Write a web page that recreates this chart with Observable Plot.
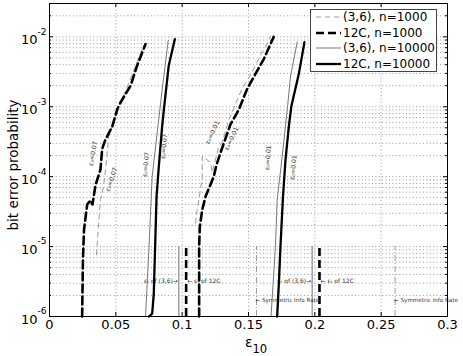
<!DOCTYPE html>
<html><head><meta charset="utf-8">
<script src="https://cdn.jsdelivr.net/npm/d3@7"></script>
<script src="https://cdn.jsdelivr.net/npm/@observablehq/plot@0.6"></script>
<style>
html,body{margin:0;padding:0;background:#fff;}
#wrap{position:relative;width:463px;height:356px;font-family:"DejaVu Sans",sans-serif;}
#legend{position:absolute;left:310px;top:9px;width:127px;height:63px;border:1px solid #444;background:#fff;box-sizing:border-box;}
.row{position:absolute;left:0;height:16px;width:125px;font-size:12px;line-height:16px;color:#000;white-space:nowrap;}
.row svg{position:absolute;left:4px;top:0;}
.row span{position:absolute;left:32px;top:0;}
</style></head><body><div id="wrap"><div id="legend"></div></div>
<script>
// ---- axes ----
const xTickValues = [0, 0.05, 0.1, 0.15, 0.2, 0.25, 0.3];
const xTickLabels = ["0", "0.05", "0.1", "0.15", "0.2", "0.25", "0.3"];
const yTickValues = [1e-6, 1e-5, 1e-4, 1e-3, 1e-2];
const yTickExponents = ["-6", "-5", "-4", "-3", "-2"];
const xLabel = "ε";
const xLabelSub = "10";
const yLabel = "bit error probability";

// ---- series: eps0 = 0.07 group ----
const x36n1k_a = [0.0354,0.0372,0.0384,0.0407,0.0422,0.0447,0.0473,0.0510,0.0535,0.0611,0.0709];
const y36n1k_a = [7.6e-6,2.4e-5,4.7e-5,7.2e-5,1.26e-4,3.8e-4,5.2e-4,8.3e-4,1.15e-3,2.5e-3,7.5e-3];
const x12n1k_a = [0.0246,0.0252,0.0260,0.0284,0.0309,0.0324,0.0347,0.0384,0.0397,0.0422,0.0473,0.0510,0.0535,0.0611,0.0661,0.0724];
const y12n1k_a = [1e-6,6.4e-6,1.74e-5,4.0e-5,4.6e-5,4.0e-5,7.6e-5,1.26e-4,2.5e-4,3.4e-4,5.2e-4,9.1e-4,1.15e-3,2.0e-3,3.9e-3,7.9e-3];
const x36n10k_a = [0.0724,0.0749,0.0774,0.0812,0.0850,0.0895];
const y36n10k_a = [1e-6,9e-6,1e-4,4.3e-4,1.8e-3,8.9e-3];
const x12n10k_a = [0.0749,0.0774,0.0786,0.0807,0.0824,0.0849,0.0862,0.0899,0.0945];
const y12n10k_a = [1e-6,1.1e-6,2.1e-6,5.2e-5,1.4e-4,5.2e-4,9.1e-4,3.9e-3,9.3e-3];

// ---- series: eps0 = 0.01 group ----
const x36n1k_b = [0.1100,0.1113,0.1138,0.1151,0.1151,0.1214,0.1226,0.1277,0.1302,0.1352,0.1377,0.1427,0.1452,0.1502,0.1540,0.1603,0.1628,0.1666];
const y36n1k_b = [2.16e-5,3.35e-5,6.5e-5,1.0e-4,1.96e-4,1.6e-4,1.15e-4,2.7e-4,3.1e-4,6.6e-4,8.3e-4,1.43e-3,1.8e-3,2.6e-3,3.5e-3,6.1e-3,7.2e-3,1.02e-2];
const x12n1k_b = [0.1128,0.1128,0.1133,0.1151,0.1176,0.1238,0.1259,0.1289,0.1364,0.1427,0.1490,0.1578,0.1615,0.1690];
const y12n1k_b = [1e-6,1e-5,1.93e-5,3.35e-5,5.2e-5,1e-4,1.48e-4,2.2e-4,5.6e-4,9.1e-4,1.8e-3,3.6e-3,4.8e-3,1e-2];
const x36n10k_b = [0.1670,0.1703,0.1716,0.1754,0.1792,0.1817,0.1867];
const y36n10k_b = [1e-6,1e-5,4.6e-5,1.95e-4,9.1e-4,2.75e-3,8.4e-3];
const x12n10k_b = [0.1716,0.1729,0.1741,0.1760,0.1779,0.1804,0.1823,0.1880,0.1922];
const y12n10k_b = [1e-6,3e-6,1e-5,5.2e-5,1.75e-4,5.2e-4,1.02e-3,3.0e-3,8.4e-3];

// ---- legend ----
const legendLabels = ["(3,6), n=1000", "12C, n=1000", "(3,6), n=10000", "12C, n=10000"];

// ---- curve labels ----
const curveLabelText = ["ε₀=0.07","ε₀=0.07","ε₀=0.07","ε₀=0.07","ε₀=0.01","ε₀=0.01","ε₀=0.01","ε₀=0.01"];
const curveLabelX = [0.0328,0.0467,0.0727,0.0863,0.1229,0.1372,0.1647,0.1839];
const curveLabelY = [2.14e-4,9.1e-5,1.49e-4,2.7e-4,4.3e-4,3.5e-4,1.87e-4,1.35e-4];
const curveLabelAngle = [-80,-72,-85,-85,-65,-65,-85,-85];

// ---- thresholds ----
const thr36 = [0.0975, 0.198];
const thr12C = [0.103, 0.2035];
const sir = [0.156, 0.2605];
const thrBerRange = [1e-6, 1e-5];
const thrTextBer = 3.2e-6;
const sirTextBer = 1.7e-6;
const thr36Text = "εₜ of (3,6)→";
const thr12CText = "← εₜ of 12C";
const sirText = "← Symmetric Info Rate";

// ---- styles ----
const S = [
  {stroke:"#9a9a9a", strokeWidth:1, strokeDasharray:"5,4"},
  {stroke:"#000", strokeWidth:2.6, strokeDasharray:"8,4"},
  {stroke:"#777", strokeWidth:1, strokeDasharray:null},
  {stroke:"#000", strokeWidth:2.3, strokeDasharray:null}
];

const zip = (xs, ys) => xs.map((x, i) => ({x, y: ys[i]}));
const series = [
  [zip(x36n1k_a, y36n1k_a), 0], [zip(x12n1k_a, y12n1k_a), 1],
  [zip(x36n10k_a, y36n10k_a), 2], [zip(x12n10k_a, y12n10k_a), 3],
  [zip(x36n1k_b, y36n1k_b), 0], [zip(x12n1k_b, y12n1k_b), 1],
  [zip(x36n10k_b, y36n10k_b), 2], [zip(x12n10k_b, y12n10k_b), 3]
];
const curveLabels = curveLabelText.map((t, i) => ({t, x: curveLabelX[i], y: curveLabelY[i], a: curveLabelAngle[i]}));

const yMinor = d3.scaleLog().domain([1e-6, 0.03]).ticks();
const yMinorOnly = yMinor.filter(v => !yTickValues.some(t => Math.abs(t - v) / t < 1e-6));

const W = 463, H = 356, ML = 49, MR = 16, MT = 3, MB = 40;
const FW = W - ML - MR, FH = H - MT - MB;

const plot = Plot.plot({
  width: W, height: H,
  marginLeft: ML, marginRight: MR, marginTop: MT, marginBottom: MB,
  style: {fontFamily: "'DejaVu Sans', sans-serif", fontSize: "13px", background: "white", overflow: "visible"},
  x: {domain: [0, 0.3], axis: null},
  y: {type: "log", domain: [1e-6, 0.03], axis: null},
  marks: [
    // grid
    Plot.ruleX(xTickValues, {stroke: "#9a9a9a", strokeWidth: 1, strokeDasharray: "1,2.4"}),
    Plot.ruleY(yMinor, {stroke: "#9a9a9a", strokeWidth: 1, strokeDasharray: "1,2.4"}),
    // inward ticks
    Plot.tickX(xTickValues, {stroke: "#000", insetTop: FH - 4}),
    Plot.tickX(xTickValues, {stroke: "#000", insetBottom: FH - 4}),
    Plot.tickY(yTickValues, {stroke: "#000", insetRight: FW - 4}),
    Plot.tickY(yTickValues, {stroke: "#000", insetLeft: FW - 4}),
    Plot.tickY(yMinorOnly, {stroke: "#000", insetRight: FW - 2}),
    Plot.tickY(yMinorOnly, {stroke: "#000", insetLeft: FW - 2}),
    // threshold lines
    Plot.ruleX(thr36, {y1: thrBerRange[0], y2: thrBerRange[1], stroke: "#8a8a8a", strokeWidth: 1.2}),
    Plot.ruleX(thr12C, {y1: thrBerRange[0], y2: thrBerRange[1], stroke: "#000", strokeWidth: 2.6, strokeDasharray: "8,4"}),
    Plot.ruleX(sir, {y1: thrBerRange[0], y2: thrBerRange[1], stroke: "#9a9a9a", strokeWidth: 1, strokeDasharray: "6,2,1,2"}),
    Plot.text(thr36, {x: d => d, y: thrTextBer, text: () => thr36Text, textAnchor: "end", dx: -1, fontSize: 6, fill: "#333"}),
    Plot.text(thr12C, {x: d => d, y: thrTextBer, text: () => thr12CText, textAnchor: "start", dx: 1, fontSize: 6, fill: "#333"}),
    Plot.text(sir, {x: d => d, y: sirTextBer, text: () => sirText, textAnchor: "start", dx: -1, fontSize: 5.6, fill: "#333"}),
    // curves
    ...series.map(([data, s]) => Plot.line(data, {x: "x", y: "y", ...S[s]})),
    // curve labels
    Plot.text(curveLabels, {x: "x", y: "y", text: "t", rotate: "a", fontSize: 6.2, fill: "#333"}),
    // frame
    Plot.frame({stroke: "#000", strokeWidth: 1}),
    // x tick labels
    Plot.axisX(xTickValues, {tickSize: 0, tickPadding: 3, tickFormat: d => xTickLabels[xTickValues.indexOf(d)], fontSize: 13, label: null}),
    // y tick labels: base and exponent
    Plot.text(yTickValues, {y: d => d, frameAnchor: "left", text: () => "10", textAnchor: "end", lineAnchor: "middle", dx: -12, dy: 3, fontSize: 13}),
    Plot.text(yTickValues, {y: d => d, frameAnchor: "left", text: (d, i) => yTickExponents[yTickValues.indexOf(d)], textAnchor: "start", lineAnchor: "middle", dx: -12, dy: -5, fontSize: 9}),
    // axis labels
    Plot.text([xLabel], {frameAnchor: "bottom", text: d => d, textAnchor: "end", lineAnchor: "middle", dx: 4, dy: 26, fontSize: 14}),
    Plot.text([xLabelSub], {frameAnchor: "bottom", text: d => d, textAnchor: "start", lineAnchor: "middle", dx: 4, dy: 33, fontSize: 11.5}),
    Plot.text([yLabel], {frameAnchor: "left", text: d => d, rotate: -90, textAnchor: "middle", lineAnchor: "middle", dx: -36, dy: 5, fontSize: 13.5})
  ]
});
document.getElementById("wrap").prepend(plot);

// legend
const leg = document.getElementById("legend");
legendLabels.forEach((lab, i) => {
  const row = document.createElement("div");
  row.className = "row";
  row.style.top = (-1 + i * 15.6) + "px";
  const s = S[i];
  row.innerHTML = `<svg width="26" height="16"><line x1="1" x2="26" y1="8" y2="8" stroke="${s.stroke}" stroke-width="${s.strokeWidth}" ${s.strokeDasharray ? `stroke-dasharray="${s.strokeDasharray}"` : ""}/></svg><span>${lab}</span>`;
  leg.appendChild(row);
});
</script></body></html>
